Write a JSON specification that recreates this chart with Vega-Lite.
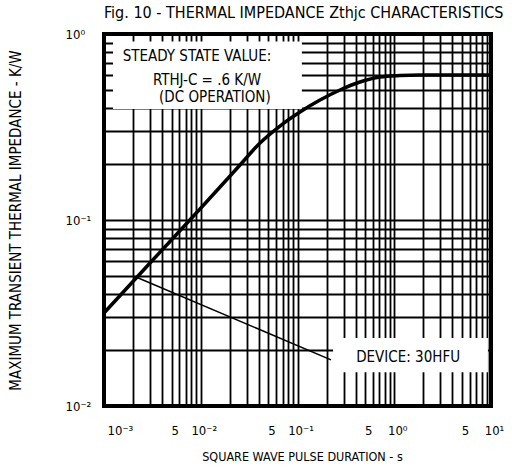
{
  "$schema": "https://vega.github.io/schema/vega-lite/v6.json",
  "width": 387,
  "height": 372,
  "autosize": {"type": "none"},
  "padding": {"left": 104, "top": 34, "right": 21, "bottom": 66},
  "background": "white",
  "title": {
    "text": "Fig. 10 - THERMAL IMPEDANCE Zthjc CHARACTERISTICS",
    "anchor": "start",
    "frame": "group",
    "offset": 7,
    "fontSize": 16,
    "fontWeight": "normal",
    "font": "Liberation Sans Narrow, DejaVu Sans Condensed, Liberation Sans, sans-serif",
    "color": "black"
  },
  "config": {
    "view": {"stroke": "black", "strokeWidth": 4},
    "axis": {
      "labelFont": "Liberation Sans Narrow, DejaVu Sans Condensed, Liberation Sans, sans-serif",
      "titleFont": "Liberation Sans Narrow, DejaVu Sans Condensed, Liberation Sans, sans-serif",
      "labelColor": "black",
      "titleColor": "black",
      "titleFontWeight": "normal",
      "gridColor": "black",
      "gridOpacity": 1,
      "domain": false,
      "ticks": false,
      "labelOverlap": false,
      "labelFlush": false,
      "labelBound": false
    }
  },
  "encoding": {
    "x": {
      "field": "x",
      "type": "quantitative",
      "scale": {"type": "log", "domain": [0.001, 10], "nice": false},
      "axis": {
        "title": "SQUARE WAVE PULSE DURATION - s",
        "titleFontSize": 12.5,
        "titleY": 50,
        "titleX": 198,
        "titleBaseline": "middle",
        "values": [0.001, 0.002, 0.003, 0.004, 0.005, 0.006, 0.007, 0.008, 0.009, 0.01, 0.02, 0.03, 0.04, 0.05, 0.06, 0.07, 0.08, 0.09, 0.1, 0.2, 0.3, 0.4, 0.5, 0.6, 0.7, 0.8, 0.9, 1, 2, 3, 4, 5, 6, 7, 8, 9, 10],
        "labelExpr": "datum.value == 0.001 ? '10⁻³' : datum.value == 0.01 ? '10⁻²' : datum.value == 0.1 ? '10⁻¹' : datum.value == 1 ? '10⁰' : datum.value == 10 ? '10¹' : (datum.value == 0.005 || datum.value == 0.05 || datum.value == 0.5 || datum.value == 5) ? '5' : ''",
        "labelFontSize": 13,
        "labelPadding": 18,
        "labelAlign": {"condition": {"test": "datum.value == 0.001", "value": "left"}, "value": "center"},
        "labelOffset": 3,
        "grid": true,
        "gridWidth": 1.8
      }
    },
    "y": {
      "field": "y",
      "type": "quantitative",
      "scale": {"type": "log", "domain": [0.01, 1], "nice": false},
      "axis": {
        "title": "MAXIMUM TRANSIENT THERMAL IMPEDANCE - K/W",
        "titleFontSize": 15,
        "titleX": -89,
        "titleY": 186,
        "titleBaseline": "middle",
        "titleAngle": -90,
        "values": [0.01, 0.02, 0.03, 0.04, 0.05, 0.06, 0.07, 0.08, 0.09, 0.1, 0.2, 0.3, 0.4, 0.5, 0.6, 0.7, 0.8, 0.9, 1],
        "labelExpr": "datum.value == 1 ? '10⁰' : datum.value == 0.1 ? '10⁻¹' : datum.value == 0.01 ? '10⁻²' : ''",
        "labelFontSize": 13,
        "labelAlign": "left",
        "labelBaseline": "middle",
        "labelPadding": 39,
        "grid": true,
        "gridWidth": 1.8
      }
    }
  },
  "layer": [
    {
      "data": {"values": [
        {"x": 0.00124, "x2": 0.111, "y": 0.395, "y2": 0.91},
        {"x": 0.233, "x2": 9.3, "y": 0.0152, "y2": 0.0232}
      ]},
      "mark": {"type": "rect", "color": "white"},
      "encoding": {"x2": {"field": "x2"}, "y2": {"field": "y2"}}
    },
    {
      "data": {"values": [
        {"x": 0.001, "y": 0.0316},
        {"x": 0.002988, "y": 0.0587},
        {"x": 0.009822, "y": 0.1146},
        {"x": 0.02544, "y": 0.1975},
        {"x": 0.04096, "y": 0.2594},
        {"x": 0.06591, "y": 0.3201},
        {"x": 0.1061, "y": 0.3807},
        {"x": 0.1709, "y": 0.4416},
        {"x": 0.275, "y": 0.5},
        {"x": 0.4426, "y": 0.5519},
        {"x": 0.7125, "y": 0.5873},
        {"x": 1.147, "y": 0.598},
        {"x": 1.845, "y": 0.6017},
        {"x": 10, "y": 0.6017}
      ]},
      "mark": {"type": "line", "color": "black", "strokeWidth": 3.5, "interpolate": "monotone"}
    },
    {
      "data": {"values": [
        {"x": 0.00214, "y": 0.0494},
        {"x": 0.222, "y": 0.0177}
      ]},
      "mark": {"type": "line", "color": "black", "strokeWidth": 1.5}
    },
    {
      "data": {"values": [
        {"x": 0.00914, "y": 0.762, "label": "STEADY STATE VALUE:"},
        {"x": 0.0116, "y": 0.566, "label": "RTHJ-C = .6 K/W"},
        {"x": 0.014, "y": 0.458, "label": "(DC OPERATION)"},
        {"x": 1.39, "y": 0.0183, "label": "DEVICE:  30HFU"}
      ]},
      "mark": {"type": "text", "color": "black", "fontSize": 15, "align": "center", "baseline": "middle", "font": "Liberation Sans Narrow, DejaVu Sans Condensed, Liberation Sans, sans-serif"},
      "encoding": {"text": {"field": "label"}}
    }
  ]
}
